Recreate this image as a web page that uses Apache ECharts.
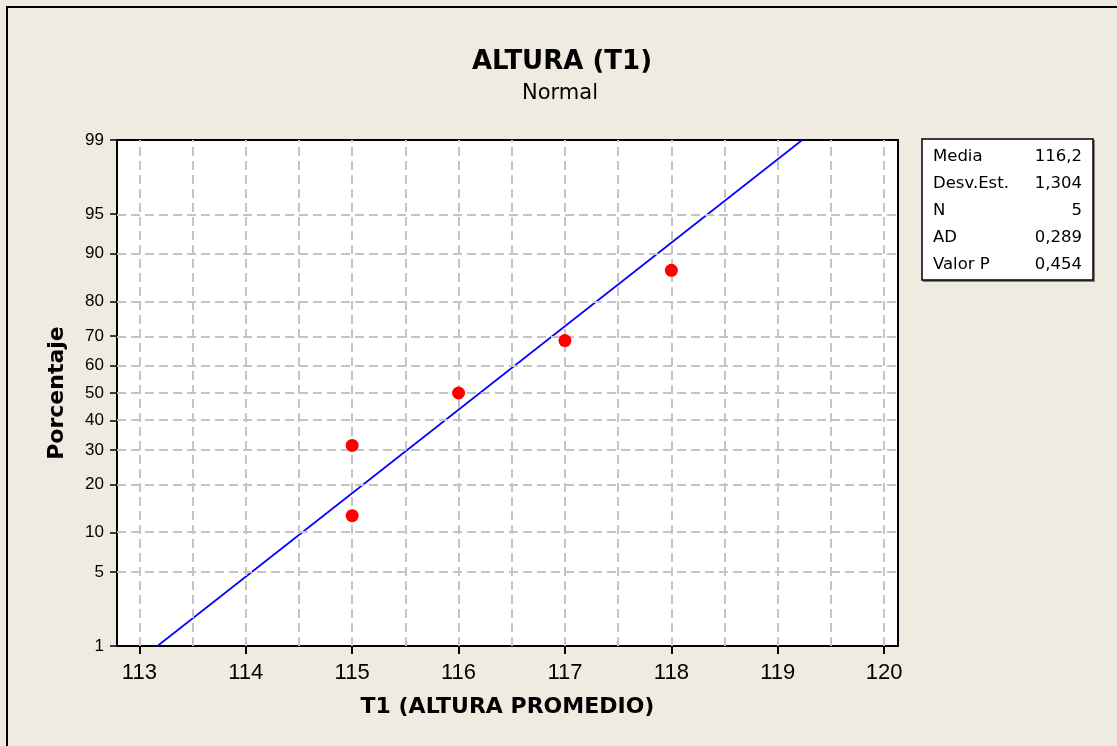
<!DOCTYPE html>
<html>
<head>
<meta charset="utf-8">
<script src="https://cdn.jsdelivr.net/npm/echarts@6/dist/echarts.min.js"></script>
<style>
  html, body { margin: 0; padding: 0; background: #EFEBE1; }
  #chart { width: 1117px; height: 746px; }
</style>
</head>
<body>
<div id="chart"></div>
<script>
// ---- data ----
const heights = [115, 115, 116, 117, 118];          // T1 (ALTURA PROMEDIO)
const percents = [12.96, 31.48, 50.0, 68.52, 87.04]; // Porcentaje
const fitX = [113.17, 119.23];                      // fitted normal line
const fitP = [1, 99];
const xTickValues = [113, 114, 115, 116, 117, 118, 119, 120];
const xGridValues = [113, 113.5, 114, 114.5, 115, 115.5, 116, 116.5, 117, 117.5, 118, 118.5, 119, 119.5, 120];
const yTickPercents = [1, 5, 10, 20, 30, 40, 50, 60, 70, 80, 90, 95, 99];
const statLabels = ['Media', 'Desv.Est.', 'N', 'AD', 'Valor P'];
const statValues = ['116,2', '1,304', '5', '0,289', '0,454'];
const titleText = 'ALTURA (T1)';
const subtitleText = 'Normal';
const xName = 'T1 (ALTURA PROMEDIO)';
const yName = 'Porcentaje';

// ---- probability-scale transform (inverse normal CDF, Acklam) ----
function normInv(p) {
  const a = [-3.969683028665376e+01, 2.209460984245205e+02, -2.759285104469687e+02, 1.383577518672690e+02, -3.066479806614716e+01, 2.506628277459239e+00];
  const b = [-5.447609879822406e+01, 1.615858368580409e+02, -1.556989798598866e+02, 6.680131188771972e+01, -1.328068155288572e+01];
  const c = [-7.784894002430293e-03, -3.223964580411365e-01, -2.400758277161838e+00, -2.549732539343734e+00, 4.374664141464968e+00, 2.938163982698783e+00];
  const d = [7.784695709041462e-03, 3.224671290700398e-01, 2.445134137142996e+00, 3.754408661907416e+00];
  const pl = 0.02425, ph = 1 - pl;
  let q, r;
  if (p < pl) {
    q = Math.sqrt(-2 * Math.log(p));
    return (((((c[0]*q+c[1])*q+c[2])*q+c[3])*q+c[4])*q+c[5]) / ((((d[0]*q+d[1])*q+d[2])*q+d[3])*q+1);
  } else if (p <= ph) {
    q = p - 0.5; r = q * q;
    return (((((a[0]*r+a[1])*r+a[2])*r+a[3])*r+a[4])*r+a[5])*q / (((((b[0]*r+b[1])*r+b[2])*r+b[3])*r+b[4])*r+1);
  } else {
    q = Math.sqrt(-2 * Math.log(1 - p));
    return -(((((c[0]*q+c[1])*q+c[2])*q+c[3])*q+c[4])*q+c[5]) / ((((d[0]*q+d[1])*q+d[2])*q+d[3])*q+1);
  }
}
const toZ = pct => normInv(pct / 100);
const yTickZ = yTickPercents.map(toZ);

const FONT = 'DejaVu Sans';
const NUMFONT = 'Liberation Sans';
const gridLine = { color: '#C4C4C4', width: 2, type: [9, 5] };

const chart = echarts.init(document.getElementById('chart'), null, { renderer: 'canvas' });

const statGraphics = [];
statLabels.forEach((lab, i) => {
  const y = 157 + i * 27;
  statGraphics.push({ type: 'text', x: 933, y: y, z: 20,
    style: { text: lab, font: '16.5px "' + FONT + '"', fill: '#000', textAlign: 'left', textVerticalAlign: 'middle' } });
  statGraphics.push({ type: 'text', x: 1082, y: y, z: 20,
    style: { text: statValues[i], font: '16.5px "' + FONT + '"', fill: '#000', textAlign: 'right', textVerticalAlign: 'middle' } });
});

chart.setOption({
  animation: false,
  backgroundColor: '#EFEBE1',
  grid: {
    left: 117, top: 140, width: 781, height: 506,
    show: true, backgroundColor: '#FFFFFF', borderColor: '#000', borderWidth: 2
  },
  xAxis: {
    type: 'value', min: 112.79, max: 120.13,
    name: xName, nameLocation: 'middle', nameGap: 50,
    nameTextStyle: { fontFamily: FONT, fontWeight: 'bold', fontSize: 22, color: '#000' },
    axisLine: { show: true, onZero: false, lineStyle: { color: '#000', width: 2 } },
    axisTick: { show: true, inside: false, length: 8, customValues: xTickValues, lineStyle: { color: '#000', width: 2 } },
    axisLabel: { customValues: xTickValues, fontFamily: NUMFONT, fontSize: 22, color: '#000', margin: 16 },
    splitLine: { show: false }
  },
  yAxis: {
    type: 'value', min: toZ(1), max: toZ(99),
    name: yName, nameLocation: 'middle', nameGap: 49, nameRotate: 90,
    nameTextStyle: { fontFamily: FONT, fontWeight: 'bold', fontSize: 22, color: '#000' },
    axisLine: { show: true, onZero: false, lineStyle: { color: '#000', width: 2 } },
    axisTick: { show: true, inside: false, length: 7, customValues: yTickZ, lineStyle: { color: '#000', width: 1.5 } },
    axisLabel: {
      customValues: yTickZ, fontFamily: NUMFONT, fontSize: 17, color: '#000', margin: 13,
      formatter: v => {
        let best = 0;
        yTickZ.forEach((z, i) => { if (Math.abs(z - v) < Math.abs(yTickZ[best] - v)) best = i; });
        return String(yTickPercents[best]);
      }
    },
    splitLine: { show: false }
  },
  graphic: [
    { type: 'rect', shape: { x: 7, y: 7, width: 1200, height: 800 }, z: -10, silent: true,
      style: { fill: 'none', stroke: '#000', lineWidth: 2 } },
    { type: 'text', x: 562, y: 62, z: 20,
      style: { text: titleText, font: 'bold 26px "' + FONT + '"', fill: '#000', textAlign: 'center', textVerticalAlign: 'middle' } },
    { type: 'text', x: 560, y: 94, z: 20,
      style: { text: subtitleText, font: '21px "' + FONT + '"', fill: '#000', textAlign: 'center', textVerticalAlign: 'middle' } },
    { type: 'rect', shape: { x: 923, y: 140, width: 172, height: 142 }, z: 9,
      style: { fill: '#808080' } },
    { type: 'rect', shape: { x: 922, y: 139, width: 171, height: 141 }, z: 10,
      style: { fill: '#FFFFFF', stroke: '#000', lineWidth: 1.5 } }
  ].concat(statGraphics),
  series: [
    {
      type: 'line', data: [], silent: true, z: 1,
      markLine: {
        silent: true, symbol: 'none', label: { show: false },
        lineStyle: gridLine, animation: false,
        data: xGridValues.map(v => ({ xAxis: v })).concat(yTickZ.map(v => ({ yAxis: v })))
      }
    },
    {
      type: 'line', z: 3, silent: true, symbol: 'none',
      lineStyle: { color: '#0000FF', width: 1.6 },
      data: fitX.map((x, i) => [x, toZ(fitP[i])])
    },
    {
      type: 'scatter', z: 5, symbol: 'circle', symbolSize: 13,
      itemStyle: { color: '#FF0000', opacity: 1 },
      data: heights.map((x, i) => [x, toZ(percents[i])])
    }
  ]
});
</script>
</body>
</html>
